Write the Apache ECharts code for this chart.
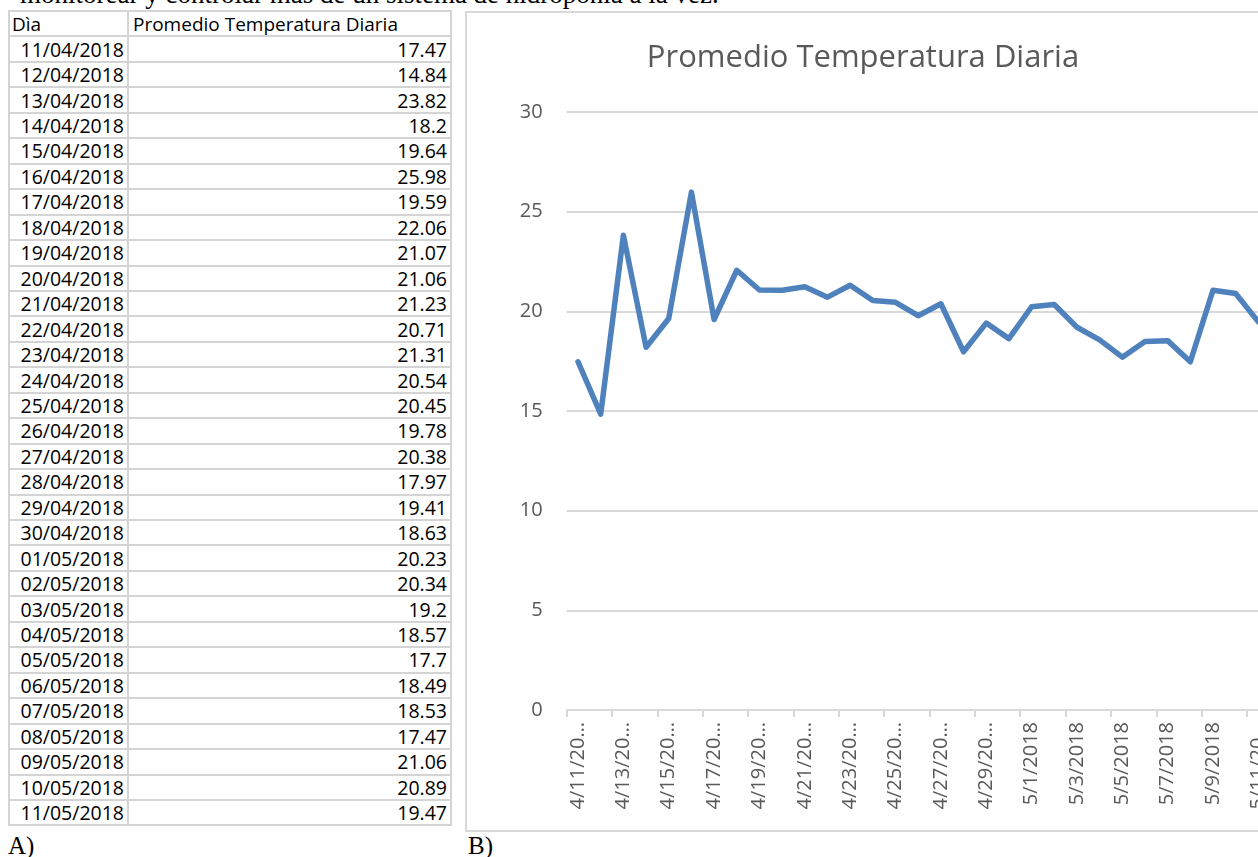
<!DOCTYPE html>
<html>
<head>
<meta charset="utf-8">
<script src="https://cdn.jsdelivr.net/npm/echarts@6/dist/echarts.min.js"></script>
<style>
  html, body { margin:0; padding:0; width:1258px; height:857px; overflow:hidden; background:#fff; }
  .abs { position:absolute; }
  .serif { font-family:"Liberation Serif","Times New Roman",serif; color:#000; white-space:nowrap; line-height:1; }
  .cell { position:absolute; font-family:"Open Sans",sans-serif; color:#000; white-space:nowrap; display:flex; align-items:center; }
  .hl { position:absolute; background:#d4d4d4; height:2px; }
  .vl { position:absolute; background:#d4d4d4; width:2px; }
  #chartBox { position:absolute; left:465px; top:11px; width:830px; height:817px; border:2px solid #d9d9d9; box-sizing:content-box; }
  #chart { width:830px; height:817px; }
</style>
</head>
<body>
<div class="abs serif" style="left:20px; top:-19px; font-size:27px;">monitorear y controlar más de un sistema de hidroponía a la vez.</div>
<div id="table"></div>
<div id="chartBox"><div id="chart"></div></div>
<div class="abs serif" style="left:8px; top:833px; font-size:25px;">A)</div>
<div class="abs serif" style="left:468px; top:833px; font-size:25px;">B)</div>
<script>
// ---- data ----
const headers = ["Dìa", "Promedio Temperatura Diaria"];
const tableDates = ["11/04/2018","12/04/2018","13/04/2018","14/04/2018","15/04/2018","16/04/2018","17/04/2018","18/04/2018","19/04/2018","20/04/2018","21/04/2018","22/04/2018","23/04/2018","24/04/2018","25/04/2018","26/04/2018","27/04/2018","28/04/2018","29/04/2018","30/04/2018","01/05/2018","02/05/2018","03/05/2018","04/05/2018","05/05/2018","06/05/2018","07/05/2018","08/05/2018","09/05/2018","10/05/2018","11/05/2018"];
const tableValues = ["17.47","14.84","23.82","18.2","19.64","25.98","19.59","22.06","21.07","21.06","21.23","20.71","21.31","20.54","20.45","19.78","20.38","17.97","19.41","18.63","20.23","20.34","19.2","18.57","17.7","18.49","18.53","17.47","21.06","20.89","19.47"];
const axisCategories = ["4/11/2018","4/12/2018","4/13/2018","4/14/2018","4/15/2018","4/16/2018","4/17/2018","4/18/2018","4/19/2018","4/20/2018","4/21/2018","4/22/2018","4/23/2018","4/24/2018","4/25/2018","4/26/2018","4/27/2018","4/28/2018","4/29/2018","4/30/2018","5/1/2018","5/2/2018","5/3/2018","5/4/2018","5/5/2018","5/6/2018","5/7/2018","5/8/2018","5/9/2018","5/10/2018","5/11/2018"];
const temperatures = [17.47,14.84,23.82,18.2,19.64,25.98,19.59,22.06,21.07,21.06,21.23,20.71,21.31,20.54,20.45,19.78,20.38,17.97,19.41,18.63,20.23,20.34,19.2,18.57,17.7,18.49,18.53,17.47,21.06,20.89,19.47];
const chartTitle = "Promedio Temperatura Diaria";
const yTicks = [0,5,10,15,20,25,30];

// ---- table (HTML) ----
(function(){
  const t = document.getElementById('table');
  const top0 = 11, rowH = 25.45, xL = 8, xM = 127, xR = 450;
  const nRows = tableDates.length + 1;
  let html = '';
  for (let i = 0; i <= nRows; i++) {
    html += `<div class="hl" style="left:${xL}px;top:${(top0 + i*rowH - 1).toFixed(2)}px;width:${xR-xL+2}px"></div>`;
  }
  [xL, xM, xR].forEach(x => {
    html += `<div class="vl" style="left:${x}px;top:${top0-1}px;height:${(nRows*rowH+2).toFixed(2)}px"></div>`;
  });
  const y0 = top0 + 0;
  html += `<div class="cell" style="left:${xL+4}px;top:${y0}px;height:${rowH}px;font-size:19px">${headers[0]}</div>`;
  html += `<div class="cell" style="left:${xM+6}px;top:${y0}px;height:${rowH}px;font-size:19px">${headers[1]}</div>`;
  for (let i = 0; i < tableDates.length; i++) {
    const y = top0 + (i+1)*rowH;
    html += `<div class="cell" style="left:${xL}px;width:${xM-xL-3}px;justify-content:flex-end;top:${y.toFixed(2)}px;height:${rowH}px;font-size:19.5px">${tableDates[i]}</div>`;
    html += `<div class="cell" style="left:${xM}px;width:${xR-xM-3}px;justify-content:flex-end;top:${y.toFixed(2)}px;height:${rowH}px;font-size:19.5px">${tableValues[i]}</div>`;
  }
  t.innerHTML = html;
})();

// ---- chart ----
const chart = echarts.init(document.getElementById('chart'), null, {renderer:'canvas'});
chart.setOption({
  animation: false,
  title: {
    text: chartTitle,
    left: 391, top: 25, textAlign: 'center',
    textStyle: { fontFamily: 'Open Sans', fontSize: 31, fontWeight: 'normal', color: '#595959' }
  },
  grid: { left: 99.7, top: 99, width: 703, height: 598, containLabel: false },
  xAxis: {
    type: 'category',
    data: axisCategories,
    boundaryGap: true,
    axisLine: { show: true, lineStyle: { color: '#d9d9d9', width: 2 } },
    axisTick: { show: true, interval: 1, length: 7, lineStyle: { color: '#d9d9d9', width: 2 } },
    axisLabel: {
      interval: 1, rotate: 90, margin: 12,
      color: '#595959', fontFamily: 'Open Sans', fontSize: 20,
      width: 92, overflow: 'truncate', ellipsis: '…'
    },
    splitLine: { show: false }
  },
  yAxis: {
    type: 'value', min: yTicks[0], max: yTicks[yTicks.length-1], interval: 5,
    axisLine: { show: false }, axisTick: { show: false },
    axisLabel: { color: '#595959', fontFamily: 'Open Sans', fontSize: 20, margin: 24 },
    splitLine: { lineStyle: { color: '#d9d9d9', width: 2 } }
  },
  series: [{
    type: 'line',
    data: temperatures,
    symbol: 'none',
    smooth: false,
    lineStyle: { color: '#4f81bd', width: 5.5, cap: 'round', join: 'round' }
  }]
});
</script>
</body>
</html>
